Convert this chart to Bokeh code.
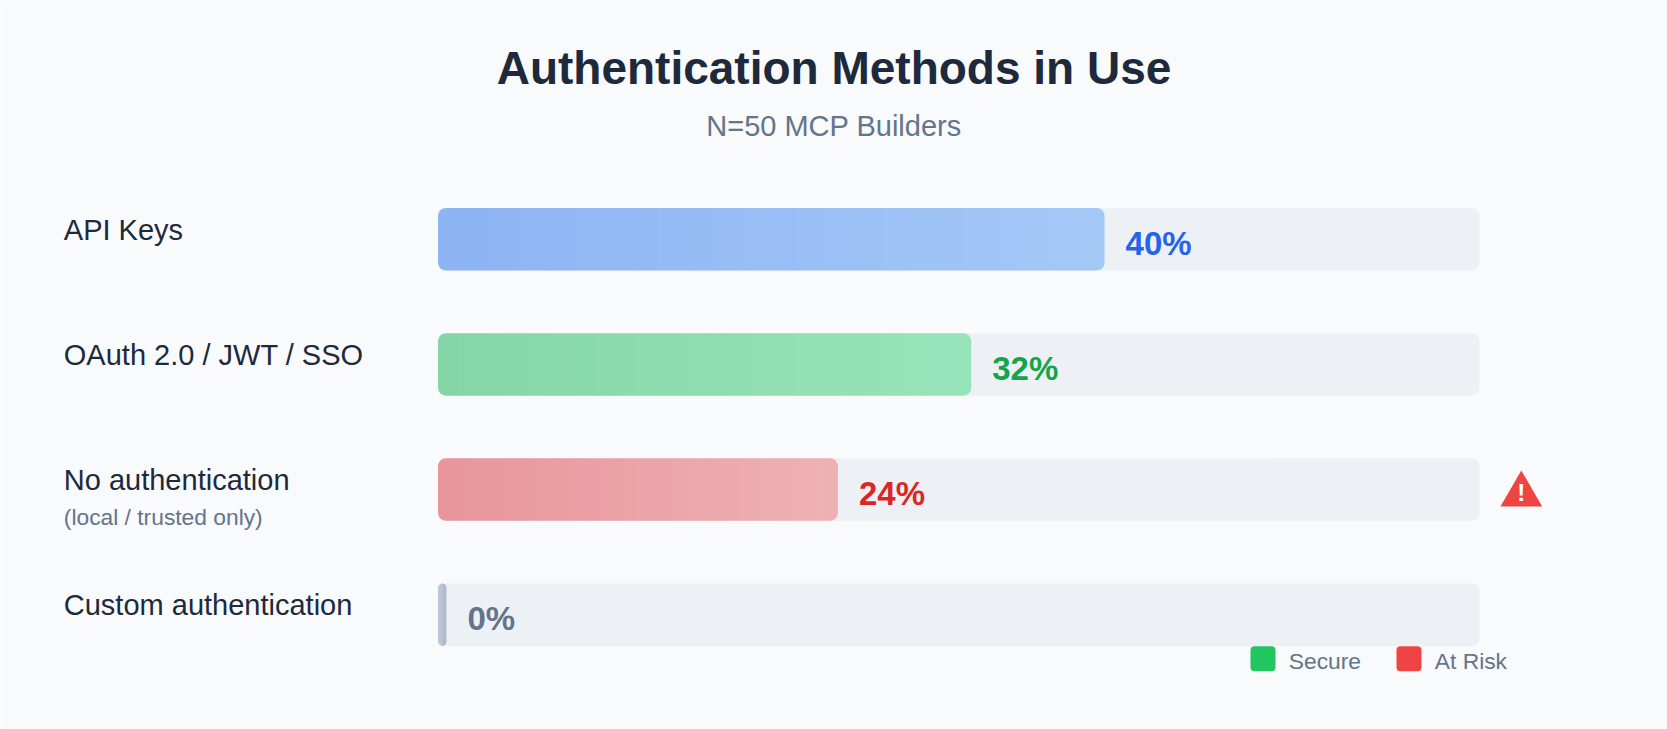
import numpy as np
from bokeh.core.properties import value
from bokeh.embed import file_html
from bokeh.models import ColumnDataSource, Range1d
from bokeh.plotting import figure
from bokeh.resources import INLINE

# ---------- data ----------
methods = ["API Keys", "OAuth 2.0 / JWT / SSO", "No authentication", "Custom authentication"]
notes = ["", "", "(local / trusted only)", ""]
shares = [40, 32, 24, 0]
share_labels = ["40%", "32%", "24%", "0%"]
groups = ["neutral", "secure", "risk", "none"]
flagged = [False, False, True, False]
legend_labels = ["Secure", "At Risk"]

TITLE = "Authentication Methods in Use"
SUBTITLE = "N=50 MCP Builders"

# ---------- style ----------
BG = "#f8fafc"
TRACK = "#edf1f6"
INK = "#1e293b"
MUTED = "#64748b"
FONT = "Liberation Sans"
FILL = {
    "neutral": ("#8cb4f3", "#a5c8f6"),
    "secure": ("#84d6a6", "#98e4ba"),
    "risk": ("#e8959a", "#eeb2b4"),
    "none": ("#c3ccd9", "#a9b5c6"),
}
VALUE_COLOR = {"neutral": "#2563eb", "secure": "#16a34a", "risk": "#dc2626", "none": MUTED}
LEGEND_COLOR = {"Secure": "#22c55e", "At Risk": "#ef4444"}

# ---------- layout (page pixels) ----------
W, H = 1667, 729
TRACK_MAX = 62.5                 # percent at the right end of the track
X0, XPX = 437.5, 1041.5 / TRACK_MAX
Y0, YPX = 238.8, 125.13          # first row centre, row pitch
DROP = 0.34                      # svg text sits this many em below the asked baseline


def sx(px):
    return (px - X0) / XPX


def sy(py):
    return (py - Y0) / YPX


def base(py_offset, size):
    # baseline offset in rows, corrected for the svg text drop
    return (py_offset - DROP * size) / YPX


def mix(c0, c1, t):
    a = [int(c0[i:i + 2], 16) for i in (1, 3, 5)]
    b = [int(c1[i:i + 2], 16) for i in (1, 3, 5)]
    return "#%02x%02x%02x" % tuple(round(x + (y - x) * t) for x, y in zip(a, b))


rows = list(range(len(methods)))

p = figure(width=W, height=H, output_backend="svg", toolbar_location=None,
           x_range=Range1d(sx(0), sx(W)), y_range=Range1d(sy(H), sy(0)),
           min_border=0, outline_line_color=None,
           background_fill_color=BG, border_fill_color=BG)
p.axis.visible = False
p.grid.visible = False

BAR_H = 0.5

# tracks
p.hbar(y=rows, left=0, right=TRACK_MAX, height=BAR_H,
       fill_color=TRACK, line_color=None, border_radius=8)

# gradient bars: sliced into thin pieces, rounded at both ends
N = 24
pieces = {k: dict(y=[], left=[], right=[], color=[]) for k in ("first", "mid", "last")}
STUB = 8.5 / XPX
overlap = 0.6 / XPX
for row, v, g in zip(rows, shares, groups):
    c0, c1 = FILL[g]
    n = N if v > 0 else 2
    edges = np.linspace(0, max(v, STUB), n + 1)
    for k in range(n):
        part = "first" if k == 0 else ("last" if k == n - 1 else "mid")
        d = pieces[part]
        d["y"].append(row)
        d["left"].append(edges[k])
        d["right"].append(edges[k + 1] + (overlap if k < n - 1 else 0))
        d["color"].append(mix(c0, c1, (k + 0.5) / n))

radius = {"first": (8, 0, 0, 8), "mid": 0, "last": (0, 8, 8, 0)}
for part in ("first", "mid", "last"):
    p.hbar(y="y", left="left", right="right", height=BAR_H, source=ColumnDataSource(pieces[part]),
           fill_color="color", line_color=None, border_radius=radius[part])

# value labels
vx = [max(v, STUB) + 21 / XPX for v in shares]
p.text(x=vx, y=[r + base(15.2, 33) for r in rows], text=share_labels,
       text_color=[VALUE_COLOR[g] for g in groups], text_font=value(FONT),
       text_font_style="bold", text_font_size="33px",
       text_align="left", text_baseline="alphabetic")

# category labels
p.text(x=sx(63.3), y=[r + base(0.6, 29) for r in rows], text=methods, text_color=INK,
       text_font=value(FONT), text_font_size="29px",
       text_align="left", text_baseline="alphabetic")
p.text(x=sx(63.3), y=[r + base(34.9, 22.8) for r in rows], text=notes, text_color=MUTED,
       text_font=value(FONT), text_font_size="22.8px",
       text_align="left", text_baseline="alphabetic")

# warning marker for risky rows
warn_rows = [r for r, f in zip(rows, flagged) if f]
wx = TRACK_MAX + 41.8 / XPX
p.scatter(x=[wx] * len(warn_rows), y=[r + 4.9 / YPX for r in warn_rows], marker="triangle",
          size=41.7, fill_color="#ef4444", line_color=None)
p.text(x=[wx] * len(warn_rows), y=[r + base(10.9, 24) for r in warn_rows],
       text=["!"] * len(warn_rows), text_color="white", text_font=value(FONT),
       text_font_style="bold", text_font_size="24px",
       text_align="center", text_baseline="alphabetic")

# title and subtitle
p.text(x=[sx(W / 2)], y=[sy(83 - DROP * 46)], text=[TITLE], text_color=INK,
       text_font=value(FONT), text_font_style="bold", text_font_size="46px",
       text_align="center", text_baseline="alphabetic")
p.text(x=[sx(W / 2)], y=[sy(135 - DROP * 29)], text=[SUBTITLE], text_color=MUTED,
       text_font=value(FONT), text_font_size="29px",
       text_align="center", text_baseline="alphabetic")

# legend
legend_left = [1250, 1396]
p.rect(x=[sx(l + 12.5) for l in legend_left], y=sy(658.2), width=25, height=25,
       width_units="screen", height_units="screen",
       fill_color=[LEGEND_COLOR[k] for k in legend_labels], line_color=None, border_radius=4)
p.text(x=[sx(l + 38.3) for l in legend_left], y=sy(668.3 - DROP * 22.8), text=legend_labels,
       text_color=MUTED, text_font=value(FONT), text_font_size="22.8px",
       text_align="left", text_baseline="alphabetic")

open("out.html", "w").write(file_html(p, INLINE))
